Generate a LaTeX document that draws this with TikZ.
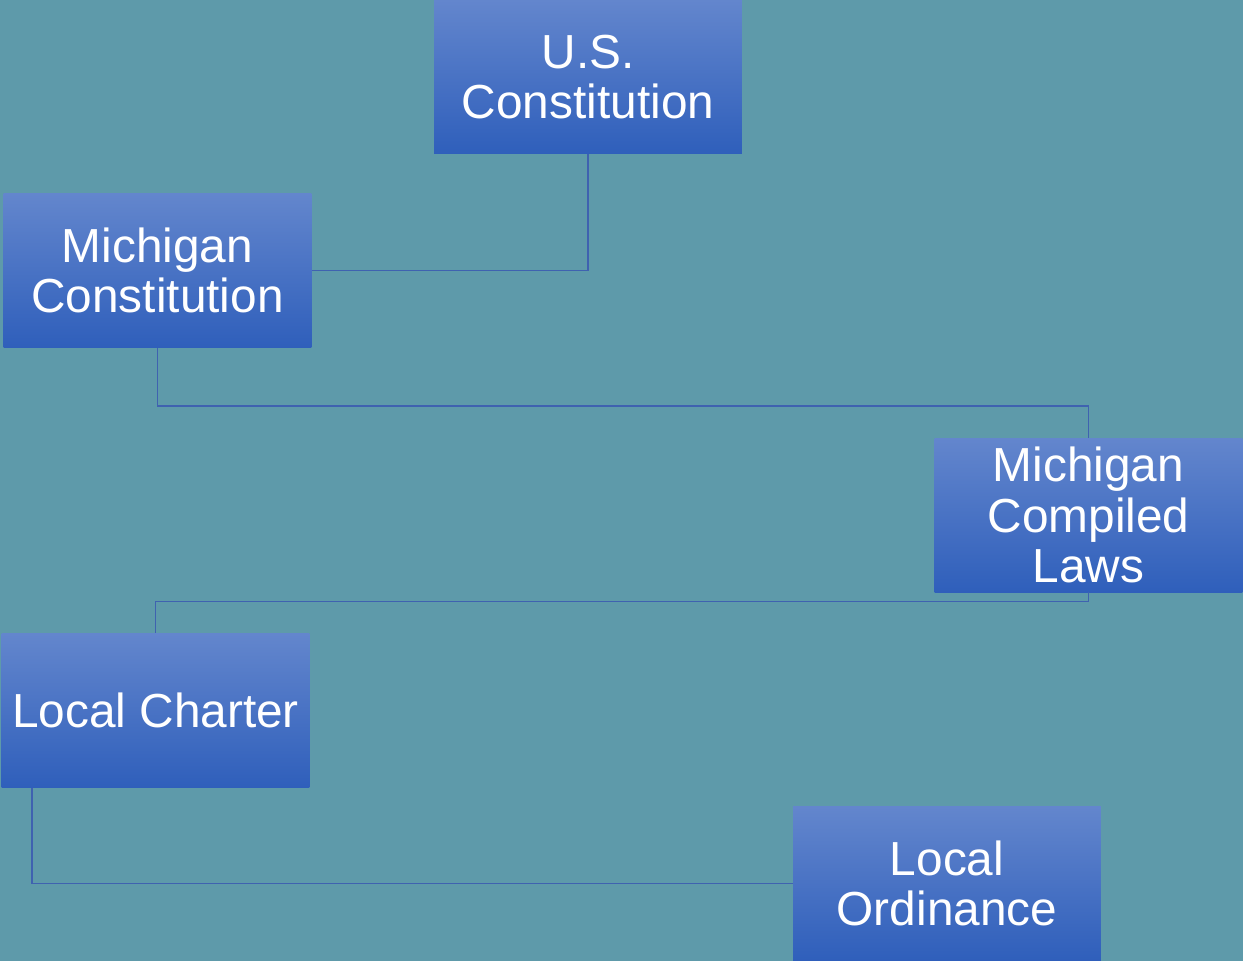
\documentclass[tikz,border=0pt]{standalone}
\usepackage{fontspec}
\setmainfont{Liberation Sans}
\usetikzlibrary{calc}
\definecolor{bgteal}{HTML}{5E9AAA}
\definecolor{boxtop}{HTML}{6386CD}
\definecolor{boxbot}{HTML}{2F5FBB}
\definecolor{linkblue}{HTML}{3F62B0}
\tikzset{
  lawbox/.style={rectangle, inner sep=0pt, minimum width=6.16cm, minimum height=3.08cm,
    top color=boxtop, bottom color=boxbot, draw=none, text=white,
    align=center, font=\fontsize{27.2}{28.8}\selectfont},
  conn/.style={draw=linkblue, line width=0.9pt}
}
\begin{document}
\begin{tikzpicture}[x=0.02cm,y=-0.02cm]
  \fill[bgteal] (0,0) rectangle (1243,961);
  \useasboundingbox (0,0) rectangle (1243,961);
  % hierarchy of legal authority
  \node[lawbox] (us)  at (588,77)   {U.S.\\Constitution};
  \node[lawbox] (mc)  at (157.5,270.5) {Michigan\\Constitution};
  \node[lawbox] (mcl) at (1088.5,515) {Michigan\\Compiled\\Laws};
  \node[lawbox] (lc)  at (155.5,710.5) {Local Charter};
  \node[lawbox] (lo)  at (947,883.5) {Local\\Ordinance};
  % elbow connectors between levels
  \draw[conn] (us.south) |- (mc.east);
  \draw[conn] (mc.south) -- ++(0,58) -| (mcl.north);
  \draw[conn] (mcl.south) -- ++(0,9) -| (lc.north);
  \draw[conn] ($(lc.south west)+(31,0)$) |- (lo.west);
\end{tikzpicture}
\end{document}
